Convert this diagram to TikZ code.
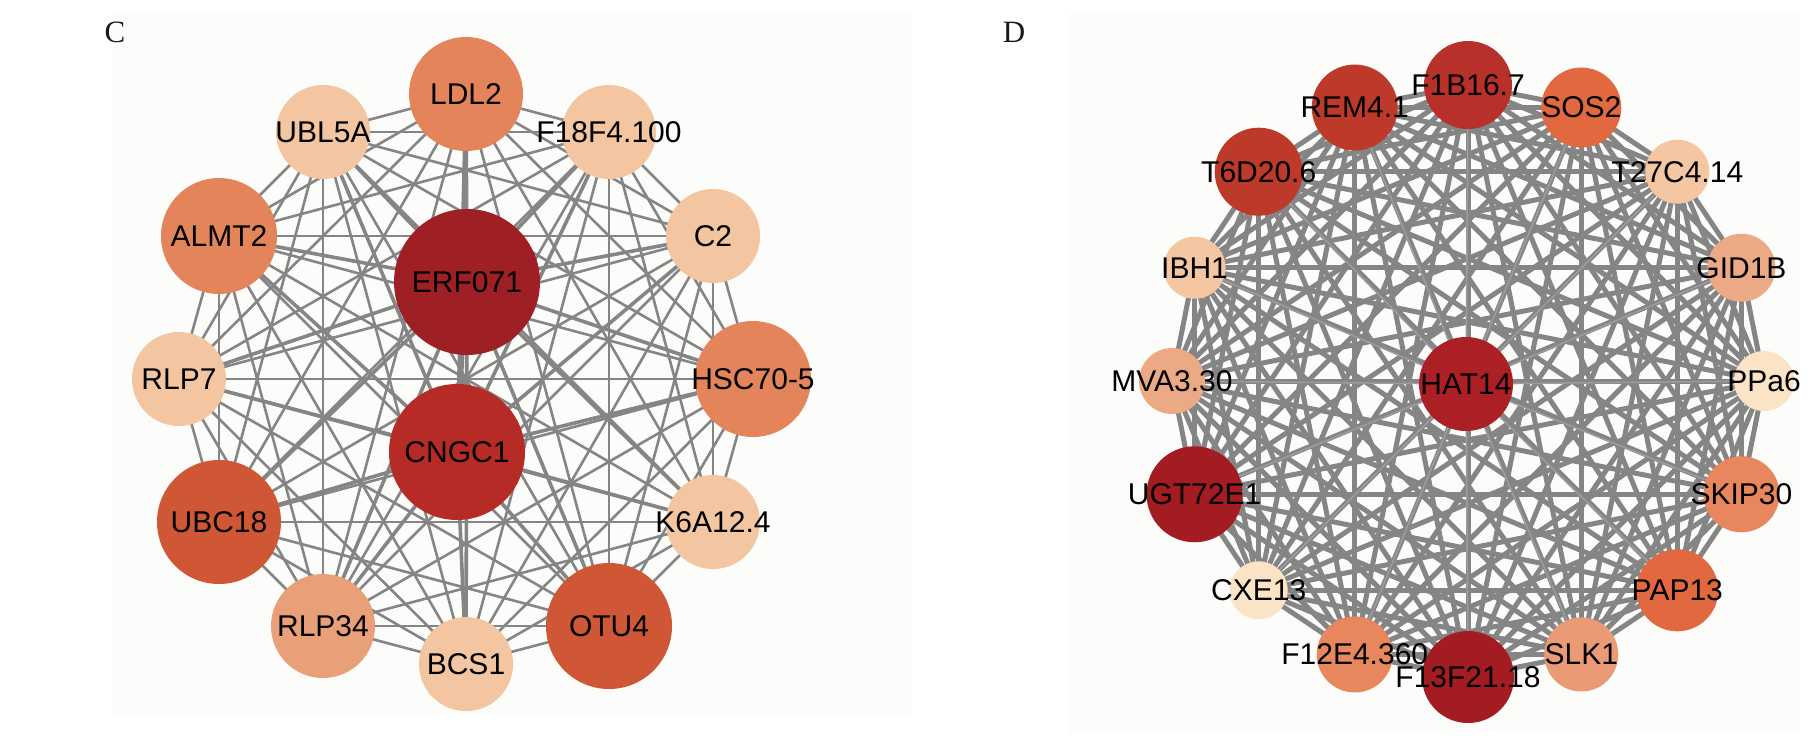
\documentclass[tikz,border=0pt]{standalone}
\usepackage{fontspec}
\setmainfont{Liberation Sans}
\newfontfamily\panelfont{Liberation Serif}
\pgfdeclarelayer{bg}
\pgfdeclarelayer{edges}
\pgfdeclarelayer{top}
\pgfsetlayers{bg,edges,main,top}
\definecolor{panelbg}{HTML}{FCFCFA}
\definecolor{edgegray}{HTML}{858585}
\definecolor{cDark}{HTML}{9E1F24}
\definecolor{cRed}{HTML}{B72B26}
\definecolor{cOR}{HTML}{CF5736}
\definecolor{cOr}{HTML}{E4845A}
\definecolor{cM}{HTML}{E9A078}
\definecolor{cL}{HTML}{F3C5A0}
\definecolor{dDark}{HTML}{A31C22}
\definecolor{dHat}{HTML}{AC1F24}
\definecolor{dF1}{HTML}{B8302A}
\definecolor{dRem}{HTML}{BD3A2A}
\definecolor{dSos}{HTML}{E1683F}
\definecolor{dOr}{HTML}{E8875D}
\definecolor{dSlk}{HTML}{EA9B76}
\definecolor{dGid}{HTML}{ECA985}
\definecolor{dL}{HTML}{F4C6A1}
\definecolor{dVL}{HTML}{FBE3C6}
\begin{document}
\begin{tikzpicture}[x=1pt,y=-1pt,
  nd/.style={circle,inner sep=0pt,draw=none},
  lab/.style={font=\fontsize{30}{31}\selectfont,inner sep=0pt,text=black},
  panellab/.style={font=\panelfont\fontsize{31}{31}\selectfont,inner sep=0pt,text=black!90},
  edc/.style={draw=edgegray,line width=2.6pt},
  edcthick/.style={draw=edgegray,line width=3.6pt},
  edd/.style={draw=edgegray,line width=5pt},
  eddthin/.style={draw=edgegray!80,line width=1.5pt}]
\useasboundingbox (0,0) rectangle (1812,745);
\begin{pgfonlayer}{bg}
\fill[white] (0,0) rectangle (1812,745);
\fill[panelbg] (113,13) rectangle (911,715);
\fill[panelbg] (1069,13) rectangle (1800,733);
\end{pgfonlayer}
\node[panellab] (lc) at (115,32) {C};
\node[panellab] (ld) at (1014,32) {D};
% ---- panel C nodes
\foreach \n/\x/\y/\r/\c/\t in {
  1/466/94/57/cOr/LDL2,
  2/609/132/47/cL/F18F4.100,
  3/713/236/47/cL/C2,
  4/753/379/58/cOr/HSC70-5,
  5/713/522/47/cL/K6A12.4,
  6/609/626/63/cOR/OTU4,
  7/466/664/47/cL/BCS1,
  8/323/626/52/cM/RLP34,
  9/219/522/62/cOR/UBC18,
  10/179/379/47/cL/RLP7,
  11/219/236/58/cOr/ALMT2,
  12/323/132/47/cL/UBL5A,
  13/467/282/73/cDark/ERF071,
  14/457/452/68/cRed/CNGC1}{
  \node[nd,minimum size=\r*2pt,fill=\c] (c\n) at (\x,\y) {};
  \begin{pgfonlayer}{top}
  \node[lab] (ct\n) at (c\n) {\t};
  \end{pgfonlayer}
}
% ---- panel D nodes
\foreach \k/\r/\c/\t in {
  0/44/dF1/F1B16.7,
  1/40/dSos/SOS2,
  2/32/dL/T27C4.14,
  3/34/dGid/GID1B,
  4/30/dVL/PPa6,
  5/38/dOr/SKIP30,
  6/41/dSos/PAP13,
  7/37/dSlk/SLK1,
  8/46/dDark/F13F21.18,
  9/38/dOr/F12E4.360,
  10/29/dVL/CXE13,
  11/48/dDark/UGT72E1,
  12/33/dGid/MVA3.30,
  13/31/dL/IBH1,
  14/44/dRem/T6D20.6,
  15/43/dRem/REM4.1}{
  \pgfmathsetmacro\px{1468+296*cos(90-22.5*\k)}
  \pgfmathsetmacro\py{381-296*sin(90-22.5*\k)}
  \node[nd,minimum size=\r*2pt,fill=\c] (d\k) at (\px,\py) {};
  \begin{pgfonlayer}{top}
  \node[lab] (dt\k) at (d\k) {\t};
  \end{pgfonlayer}
}
\node[nd,minimum size=94pt,fill=dHat] (d16) at (1466,384) {};
\begin{pgfonlayer}{top}
\node[lab] (dt16) at (d16) {HAT14};
\end{pgfonlayer}
% ---- edges
\begin{pgfonlayer}{edges}
\foreach \i in {1,...,12}{
  \pgfmathtruncatemacro\js{\i+1}
  \foreach \j in {\js,...,12}{
    \draw[edc] (c\i.center) -- (c\j.center);
  }
}
\foreach \i in {1,...,12}{
  \draw[edcthick] (c13.center) -- (c\i.center);
  \draw[edcthick] (c14.center) -- (c\i.center);
}
\draw[edcthick] (c13.center) -- (c14.center);
\foreach \i in {0,...,14}{
  \pgfmathtruncatemacro\js{\i+1}
  \foreach \j in {\js,...,15}{
    \draw[edd] (d\i.center) -- (d\j.center);
  }
}
\foreach \i in {0,...,15}{
  \draw[eddthin] (d16.center) -- (d\i.center);
}
\end{pgfonlayer}
\end{tikzpicture}
\end{document}
